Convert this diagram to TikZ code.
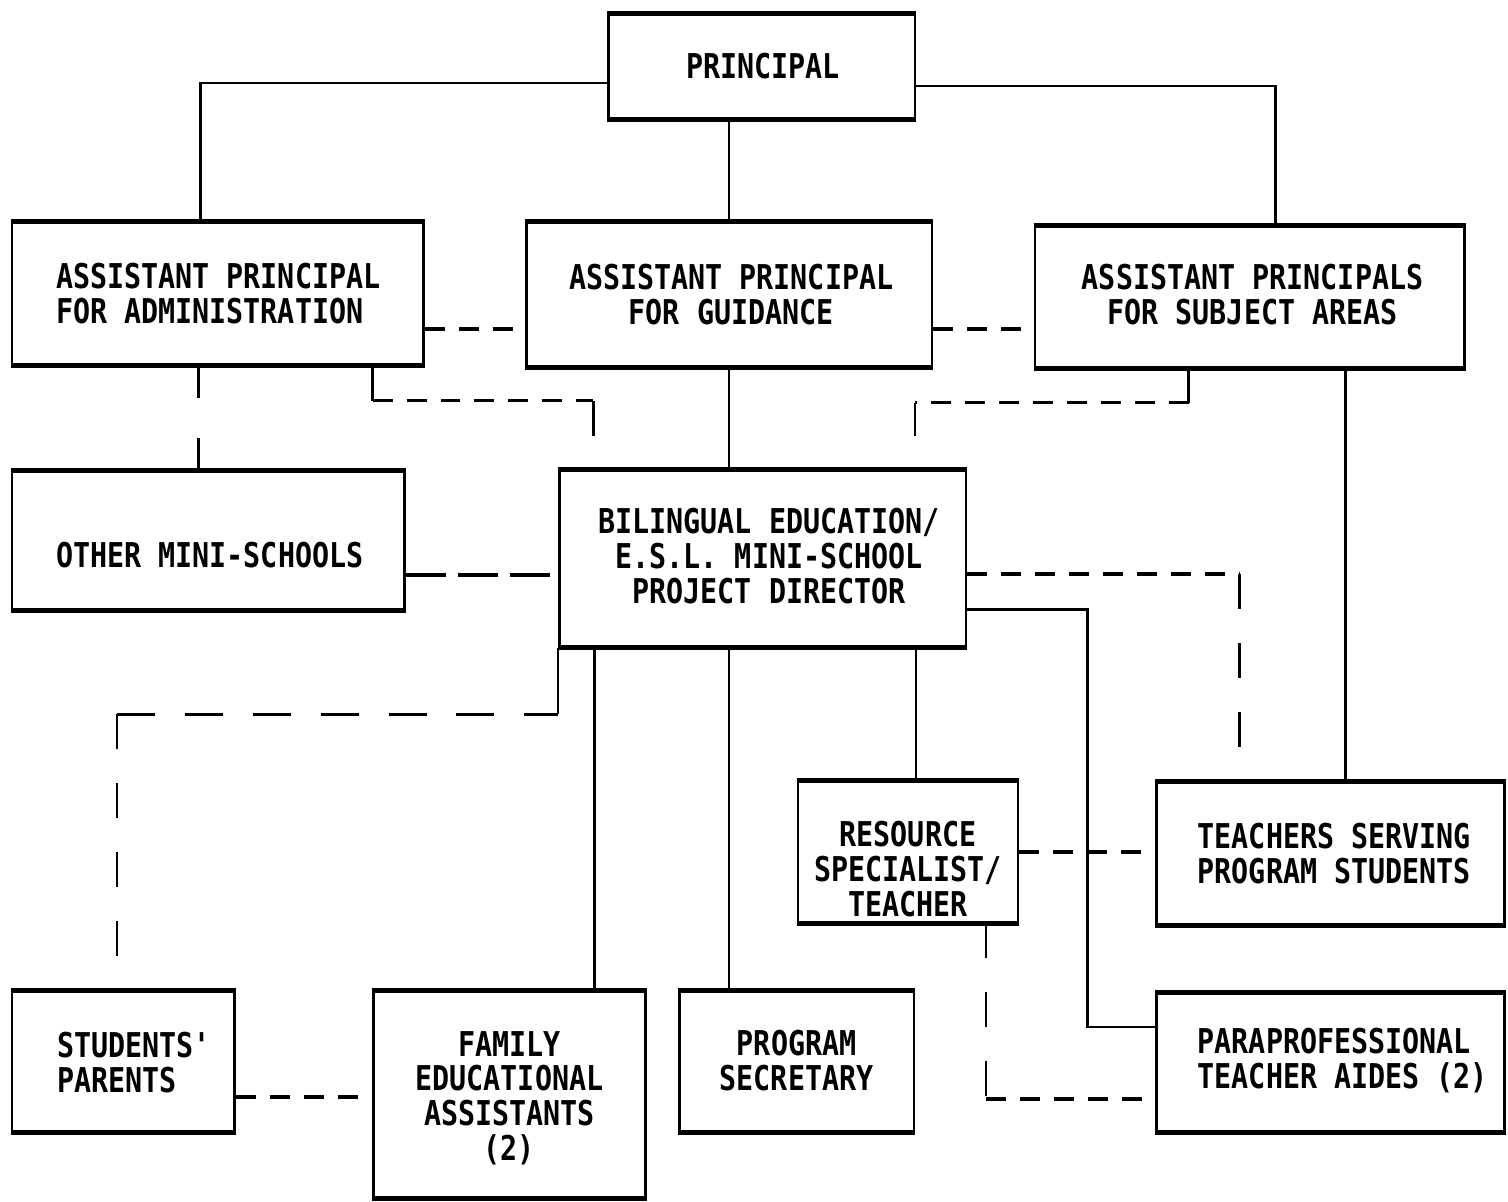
\documentclass[tikz,border=0pt]{standalone}
\usepackage{fontspec}
\newfontfamily\orgfont{DejaVu Sans Mono}[FakeStretch=0.83]
\begin{document}
\begin{tikzpicture}[x=0.5pt,y=-0.5pt,
  box/.style 2 args={draw, line width=1.3pt, minimum width=#1, minimum height=#2, inner sep=0pt},
  txt/.style={font=\orgfont\bfseries\fontsize{17.1pt}{17.5pt}\selectfont, inner sep=0pt, align=center},
  ltxt/.style={txt, align=left, anchor=west},
  ln/.style={line width=1.3pt},
  dashH/.style={line width=1.9pt, dash pattern=on 10pt off 7pt},
  dashO/.style={line width=1.9pt, dash pattern=on 20pt off 6pt},
  dashL/.style={line width=1.9pt, dash pattern=on 19pt off 15pt},
  dashV/.style={line width=1.3pt, dash pattern=on 17.5pt off 17pt},
]
\fill[white] (0,0) rectangle (1508,1201);

% boxes
\node[box={153.5pt}{51.5pt}, label={[txt, xshift=0.75pt]center:PRINCIPAL}] (princ) at (762.5,66.5) {};
\node[box={206pt}{71pt}, label={[ltxt, xshift=22.5pt]west:{ASSISTANT PRINCIPAL\\FOR ADMINISTRATION}}] (apa) at (218,294) {};
\node[box={203pt}{72pt}, label={[txt, xshift=1pt]center:{ASSISTANT PRINCIPAL\\FOR GUIDANCE}}] (apg) at (730,295) {};
\node[box={215pt}{70.5pt}, label={[txt, xshift=1.5pt, yshift=1.25pt]center:{ASSISTANT PRINCIPALS\\FOR SUBJECT AREAS}}] (aps) at (1251,297.5) {};
\node[box={196.5pt}{69pt}, label={[txt, xshift=0.75pt, yshift=-7.5pt]center:{OTHER MINI-SCHOOLS}}] (oth) at (208.5,541) {};
\node[box={203.5pt}{88pt}, label={[txt, xshift=3.25pt, yshift=1pt]center:{BILINGUAL EDUCATION/\\E.S.L. MINI-SCHOOL\\PROJECT DIRECTOR}}] (bil) at (763.5,559) {};
\node[box={110pt}{70pt}, label={[txt, yshift=-8.5pt]center:{RESOURCE\\SPECIALIST/\\TEACHER}}] (res) at (909,853) {};
\node[box={174pt}{70.5pt}, label={[ltxt, xshift=21pt]west:{TEACHERS SERVING\\PROGRAM STUDENTS}}] (tch) at (1332,854.5) {};
\node[box={111.5pt}{70pt}, label={[ltxt, xshift=23pt, yshift=-0.5pt]west:{STUDENTS\textquotesingle\\PARENTS}}] (spa) at (123.5,1063) {};
\node[box={136pt}{103pt}, label={[txt, yshift=-1.75pt]center:{FAMILY\\EDUCATIONAL\\ASSISTANTS\\(2)}}] (fam) at (510,1096) {};
\node[box={117.5pt}{70pt}, label={[txt, yshift=0.5pt]center:{PROGRAM\\SECRETARY}}] (sec) at (797.5,1063) {};
\node[box={174pt}{69pt}, label={[ltxt, xshift=21pt, yshift=1pt]west:{PARAPROFESSIONAL\\TEACHER AIDES (2)}}] (par) at (1332,1064) {};

\foreach \n in {princ,apa,apg,aps,oth,bil,res,tch,spa,fam,sec,par}
  \draw[line width=2.4pt] (\n.north west) -- (\n.north east) (\n.south west) -- (\n.south east);

% helper coordinates
\coordinate (jP) at (1089,1028);
\coordinate (a1) at (373,401);
\coordinate (a2) at (594,401);
\coordinate (a3) at (594,436);
\coordinate (b1) at (1190,403);
\coordinate (b2) at (916,403);
\coordinate (b3) at (916,436);
\coordinate (cT) at (1241,575);
\coordinate (cL1) at ([yshift=-33.5pt]bil.south west);
\coordinate (cL2) at ([xshift=-3.25pt]cL1 -| spa.north);
\coordinate (cR) at (987,1100);

% solid lines
\draw[ln] ([yshift=-8.25pt]princ.west) -| ([xshift=-8.5pt]apa.north);
\draw[ln] ([yshift=-9.75pt]princ.east) -| ([xshift=13pt]aps.north);
\draw[ln] (princ.south -| apg.north) -- (apg.north);
\draw[ln, dash pattern=on 16pt off 20pt] ([xshift=-9.5pt]apa.south) -- ([xshift=-4.75pt]oth.north);
\draw[ln] (apg.south) -- (apg.south |- bil.north);
\draw[ln] ([xshift=48pt]aps.south) -- ([xshift=7.5pt]tch.north);
\draw[ln] ([xshift=-84.25pt]bil.south) -- ([xshift=42.5pt]fam.north);
\draw[ln] ([xshift=-16.75pt]bil.south) -- ([xshift=-33.75pt]sec.north);
\draw[ln] ([xshift=76.75pt]bil.south) -- ([xshift=4pt]res.north);
\draw[ln] ([yshift=-25.5pt]bil.east) -| (jP) -- (jP -| par.west);

% dashed lines
\draw[dashH] ([yshift=-17.5pt]apa.east) -- ([yshift=-17pt]apg.west);
\draw[dashH] ([yshift=-17pt]apg.east) -- ([yshift=-15.75pt]aps.west);
\draw[ln] ([xshift=77.5pt]apa.south) -- (a1);
\draw[dashH] (a1) -- (a2);
\draw[ln] (a2) -- (a3);
\draw[ln] ([xshift=-30.5pt]aps.south) -- (b1);
\draw[dashH] (b1) -- (b2);
\draw[ln] (b2) -- (b3);
\draw[dashO] ([yshift=-17.5pt]oth.east) -- ([yshift=-8.5pt]bil.west);
\draw[dashH] ([yshift=-8pt]bil.east) -- (cT);
\draw[dashV] (cT) -- (cT |- tch.north);
\draw[ln] (bil.south west) -- (cL1);
\draw[dashL] (cL2) -- (cL1);
\draw[dashV] (cL2) -- ([xshift=-3.25pt]spa.north);
\draw[dashH] ([yshift=-17.5pt]spa.east) -- ([yshift=-1pt]fam.west);
\draw[dashH] (res.east) -- (res.east -| tch.west);
\draw[dashV] ([xshift=39pt]res.south) -- (cR);
\draw[dashH] (cR) -- (cR -| par.west);
\end{tikzpicture}
\end{document}
